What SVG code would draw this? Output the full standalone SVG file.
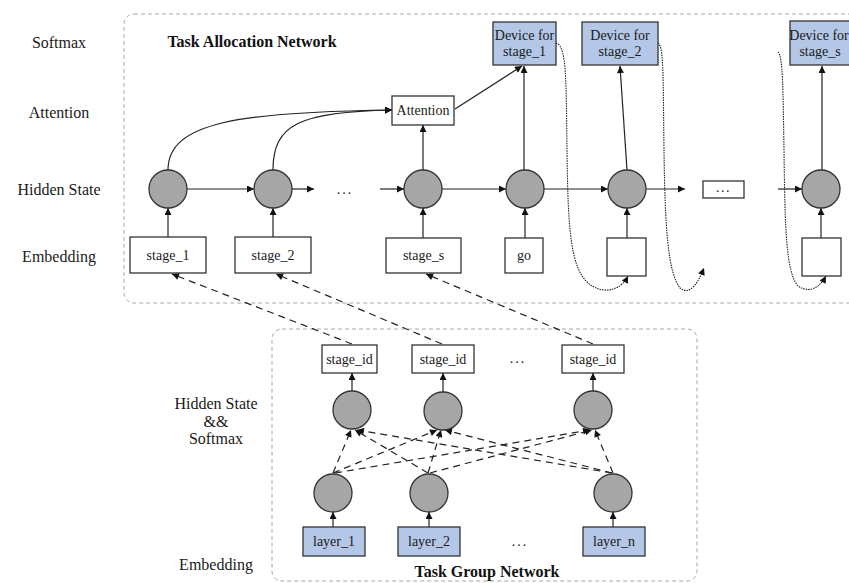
<svg xmlns="http://www.w3.org/2000/svg" width="849" height="583" viewBox="0 0 849 583">
  <style>
    .bg { fill: #ffffff; }
    .panel { fill: none; stroke: #a8a8a8; stroke-width: 1; stroke-dasharray: 4 3; }
    .lbl { font-family: "Liberation Serif", "Times New Roman", serif; font-size: 16px; fill: #1a1a1a; text-anchor: middle; }
    .title { font-family: "Liberation Serif", "Times New Roman", serif; font-size: 16px; font-weight: bold; fill: #111; text-anchor: middle; }
    .txt { font-family: "Liberation Serif", "Times New Roman", serif; font-size: 14px; fill: #1a1a1a; text-anchor: middle; }
    .box { fill: #ffffff; stroke: #333; stroke-width: 1.3; }
    .blue { fill: #b4c7e7; stroke: #333; stroke-width: 1.3; }
    .node { fill: #a6a6a6; stroke: #333; stroke-width: 1.3; }
    .arr { fill: none; stroke: #222; stroke-width: 1.2; marker-end: url(#ah); }
    .dash { fill: none; stroke: #222; stroke-width: 1.2; stroke-dasharray: 7 5; marker-end: url(#ah); }
    .dot { fill: none; stroke: #222; stroke-width: 1.1; stroke-dasharray: 1.5 1; marker-end: url(#ah); }
  </style>
  <defs>
    <marker id="ah" viewBox="0 0 10 10" refX="10" refY="5" markerWidth="8" markerHeight="7" markerUnits="userSpaceOnUse" orient="auto">
      <path d="M0,0 L10,5 L0,10 z" fill="#111"/>
    </marker>
  </defs>

  <rect class="bg" x="0" y="0" width="849" height="583"/>

  <!-- panel outlines -->
  <rect class="panel" x="124" y="14" width="760" height="289" rx="10"/>
  <rect class="panel" x="272" y="329" width="425" height="252" rx="10"/>

  <!-- row labels -->
  <g id="row-labels">
    <text class="lbl" x="59" y="48">Softmax</text>
    <text class="lbl" x="59" y="118">Attention</text>
    <text class="lbl" x="59" y="195">Hidden State</text>
    <text class="lbl" x="59" y="262">Embedding</text>
    <text class="lbl" x="216" y="409">Hidden State</text>
    <text class="lbl" x="216" y="427">&amp;&amp;</text>
    <text class="lbl" x="216" y="444">Softmax</text>
    <text class="lbl" x="216" y="570">Embedding</text>
  </g>

  <text class="title" x="252" y="47">Task Allocation Network</text>
  <text class="title" x="487" y="577">Task Group Network</text>

  <!-- connectors -->
  <g id="connectors">
    <!-- embeddings to hidden states -->
    <line class="arr" x1="168" y1="237" x2="168" y2="208"/>
    <line class="arr" x1="273" y1="237" x2="273" y2="208"/>
    <line class="arr" x1="423" y1="238" x2="423" y2="208"/>
    <line class="arr" x1="525" y1="238" x2="525" y2="208"/>
    <line class="arr" x1="627" y1="238" x2="627" y2="208"/>
    <line class="arr" x1="821" y1="238" x2="821" y2="208"/>
    <!-- recurrent links -->
    <line class="arr" x1="187" y1="189" x2="254" y2="189"/>
    <line class="arr" x1="292" y1="189" x2="314" y2="189"/>
    <line class="arr" x1="380" y1="189" x2="404" y2="189"/>
    <line class="arr" x1="442" y1="189" x2="506" y2="189"/>
    <line class="arr" x1="544" y1="189" x2="608" y2="189"/>
    <line class="arr" x1="646" y1="189" x2="685" y2="189"/>
    <line class="arr" x1="778" y1="189" x2="802" y2="189"/>
    <!-- attention inputs -->
    <path class="arr" d="M168,170 C168,122 240,112 392,110"/>
    <path class="arr" d="M273,170 C273,124 300,112 392,110"/>
    <line class="arr" x1="423" y1="170" x2="423" y2="125"/>
    <line class="arr" x1="455" y1="109" x2="522" y2="66"/>
    <!-- decoder outputs -->
    <line class="arr" x1="524" y1="170" x2="524" y2="66"/>
    <line class="arr" x1="627" y1="170" x2="620" y2="66"/>
    <line class="arr" x1="822" y1="170" x2="822" y2="66"/>
    <!-- feedback of chosen device -->
    <path class="dot" d="M556,43 C567,46 566,80 567,150 C568,230 570,272 592,286 C608,295 622,288 628,276"/>
    <path class="dot" d="M658,43 C664,46 663,80 664,150 C665,230 668,272 680,288 C690,296 698,283 704,268"/>
    <path class="dot" d="M778,52 C783,56 783,90 784,150 C785,230 786,272 798,286 C810,294 820,287 826,276"/>
    <!-- group outputs feed embeddings -->
    <line class="dash" x1="352" y1="344" x2="172" y2="274"/>
    <line class="dash" x1="442" y1="344" x2="276" y2="274"/>
    <line class="dash" x1="593" y1="344" x2="426" y2="274"/>
    <!-- group network internals -->
    <line class="arr" x1="352" y1="391" x2="352" y2="373"/>
    <line class="arr" x1="443" y1="392" x2="443" y2="373"/>
    <line class="arr" x1="593" y1="391" x2="593" y2="373"/>
    <line class="arr" x1="333" y1="527" x2="333" y2="512"/>
    <line class="arr" x1="429" y1="527" x2="429" y2="512"/>
    <line class="arr" x1="613" y1="527" x2="613" y2="512"/>
    <line class="dash" x1="333" y1="473" x2="351" y2="430"/>
    <line class="dash" x1="333" y1="473" x2="437" y2="430"/>
    <line class="dash" x1="335" y1="473" x2="590" y2="430"/>
    <line class="dash" x1="428" y1="473" x2="355" y2="430"/>
    <line class="dash" x1="428" y1="473" x2="441" y2="430"/>
    <line class="dash" x1="430" y1="473" x2="592" y2="430"/>
    <line class="dash" x1="612" y1="473" x2="357" y2="430"/>
    <line class="dash" x1="612" y1="473" x2="445" y2="430"/>
    <line class="dash" x1="613" y1="473" x2="595" y2="430"/>
  </g>

  <!-- task allocation network nodes -->
  <g id="emb-stage1"><rect class="box" x="130" y="237" width="76" height="36"/><text class="txt" x="168" y="260">stage_1</text></g>
  <g id="emb-stage2"><rect class="box" x="235" y="237" width="76" height="36"/><text class="txt" x="273" y="260">stage_2</text></g>
  <g id="emb-stages"><rect class="box" x="386" y="238" width="75" height="35"/><text class="txt" x="423.5" y="260">stage_s</text></g>
  <g id="emb-go"><rect class="box" x="505" y="238" width="38" height="35"/><text class="txt" x="524" y="260">go</text></g>
  <g id="emb-5"><rect class="box" x="607" y="238" width="39" height="38"/></g>
  <g id="emb-6"><rect class="box" x="802" y="238" width="39" height="38"/></g>

  <g id="h1"><circle class="node" cx="168" cy="189" r="19"/></g>
  <g id="h2"><circle class="node" cx="273" cy="189" r="19"/></g>
  <g id="h-gap"><text class="txt" x="345" y="194" letter-spacing="2">...</text></g>
  <g id="h3"><circle class="node" cx="423" cy="189" r="19"/></g>
  <g id="h4"><circle class="node" cx="525" cy="189" r="19"/></g>
  <g id="h5"><circle class="node" cx="627" cy="189" r="19"/></g>
  <g id="h-more"><rect class="box" x="703" y="181" width="41" height="17"/><text class="txt" x="723.5" y="192" font-size="11" letter-spacing="1.5">...</text></g>
  <g id="h6"><circle class="node" cx="821" cy="189" r="19"/></g>

  <g id="attention"><rect class="box" x="392" y="96" width="62" height="29"/><text class="txt" x="423" y="115">Attention</text></g>

  <g id="dev1"><rect class="blue" x="493" y="22" width="63" height="43"/><text class="txt" x="524.5" y="40">Device for</text><text class="txt" x="524.5" y="56">stage_1</text></g>
  <g id="dev2"><rect class="blue" x="582" y="22" width="76" height="43"/><text class="txt" x="620" y="40">Device for</text><text class="txt" x="620" y="56">stage_2</text></g>
  <g id="devs"><rect class="blue" x="790" y="21" width="64" height="44"/><text class="txt" x="819" y="40" font-size="13.5">Device for</text><text class="txt" x="820" y="56">stage_s</text></g>

  <!-- task group network nodes -->
  <g id="sid1"><rect class="box" x="322" y="345" width="55" height="28"/><text class="txt" x="349.5" y="364">stage_id</text></g>
  <g id="sid2"><rect class="box" x="412" y="345" width="62" height="28"/><text class="txt" x="443" y="364">stage_id</text></g>
  <g id="sid-gap"><text class="txt" x="518" y="363" letter-spacing="2">...</text></g>
  <g id="sid3"><rect class="box" x="562" y="345" width="62" height="28"/><text class="txt" x="593" y="364">stage_id</text></g>

  <g id="g1"><circle class="node" cx="352" cy="410" r="19"/></g>
  <g id="g2"><circle class="node" cx="443" cy="411" r="19"/></g>
  <g id="g3"><circle class="node" cx="593" cy="410" r="19"/></g>

  <g id="l1"><circle class="node" cx="333" cy="493" r="19"/></g>
  <g id="l2"><circle class="node" cx="429" cy="493" r="19"/></g>
  <g id="l3"><circle class="node" cx="613" cy="493" r="19"/></g>

  <g id="layer1"><rect class="blue" x="303" y="527" width="62" height="29"/><text class="txt" x="334" y="546">layer_1</text></g>
  <g id="layer2"><rect class="blue" x="398" y="527" width="62" height="29"/><text class="txt" x="429" y="546">layer_2</text></g>
  <g id="layer-gap"><text class="txt" x="520" y="546" letter-spacing="2">...</text></g>
  <g id="layern"><rect class="blue" x="583" y="527" width="62" height="29"/><text class="txt" x="614" y="546">layer_n</text></g>
</svg>
